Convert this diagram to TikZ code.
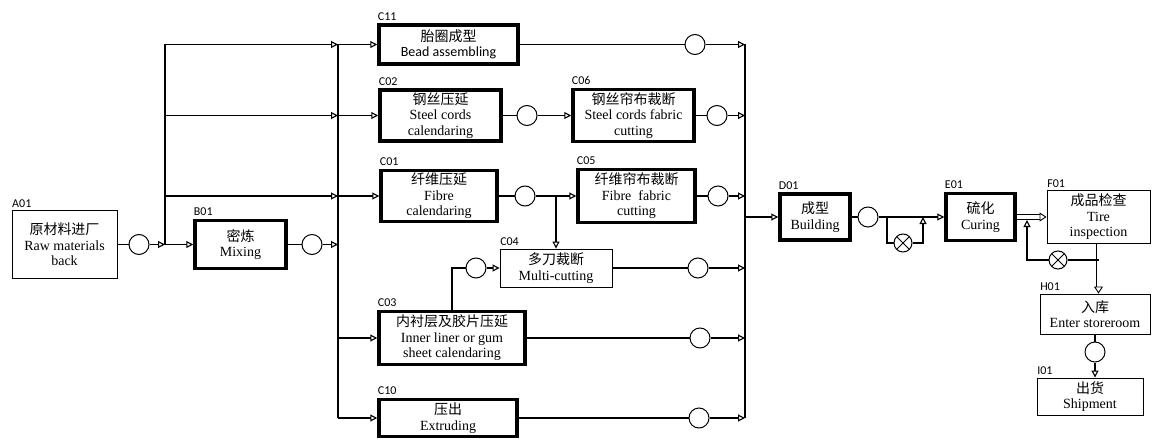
\documentclass[tikz,border=0pt]{standalone}
\usepackage{fontspec}
\setmainfont{Liberation Serif}
\newfontfamily\cjk{Noto Sans CJK SC}
\newfontfamily\cali{Carlito}
\usetikzlibrary{arrows.meta, positioning}

\begin{document}
\begin{tikzpicture}[
    x=1pt, y=-1pt,
    font=\fontsize{14}{15.5}\selectfont,
    block/.style={rectangle, draw, line width=3.5pt, align=center, inner sep=0pt},
    thinblock/.style={block, line width=0.9pt},
    tag/.style={font=\cali\fontsize{12}{12}\selectfont, inner sep=0.5pt, yshift=2pt},
    tagged/.style={label={[tag, anchor=south west]north west:#1}},
    link/.style={draw, line width=1.1pt},
    line/.style={draw, line width=1.1pt, -{Triangle[open, length=7pt, width=7pt]}},
    buf/.style={circle, draw, line width=1pt, minimum size=20pt, inner sep=0pt},
    xbuf/.style={buf, minimum size=18pt, path picture={
        \draw[line width=1pt] (path picture bounding box.north west) -- (path picture bounding box.south east)
            (path picture bounding box.north east) -- (path picture bounding box.south west);}},
    dbl/.style={draw, double, double distance=4pt, line width=0.9pt, -{Triangle[open, length=7pt, width=9pt]}}
]
\useasboundingbox (0,0) rectangle (1152,444);

% raw materials and mixing
\node [thinblock, tagged=A01, minimum width=105pt, minimum height=68pt] (A01) at (64.5,244.5) {{\cjk 原材料进厂}\\Raw materials\\back};
\node [buf] (oA) at (139,244.5) {};
\coordinate (bus1) at (165,44.5);
\node [block, tagged=B01, minimum width=91pt, minimum height=48pt] (B01) at (240.5,244.5) {{\cjk 密炼}\\Mixing};
\node [buf] (oB) at (312,244.5) {};
\coordinate (bus2) at (338,44.5);

% component lines
\node [block, tagged=C11, minimum width=139pt, minimum height=39pt] (C11) at (448.5,44.5) {{\cjk 胎圈成型}\\{\cali Bead assembling}};
\node [buf] (oC11) at (695,44.5) {};
\node [block, tagged=C02, minimum width=121pt, minimum height=51pt] (C02) at (440.5,115.5) {{\cjk 钢丝压延}\\Steel cords\\calendaring};
\node [buf] (oC02) at (527,115.5) {};
\node [block, tagged=C06, minimum width=121pt, minimum height=52pt] (C06) at (633.5,115.5) {{\cjk 钢丝帘布裁断}\\Steel cords fabric\\cutting};
\node [buf] (oC06) at (717,115.5) {};
\node [block, tagged=C01, minimum width=116pt, minimum height=51pt] (C01) at (439,196) {{\cjk 纤维压延}\\Fibre\\calendaring};
\node [buf] (oC01) at (525,196) {};
\node [block, tagged=C05, minimum width=117pt, minimum height=53pt] (C05) at (636.5,196) {{\cjk 纤维帘布裁断}\\Fibre\ \ fabric\\cutting};
\node [buf] (oC05) at (718,196) {};
\node [thinblock, tagged=C04, minimum width=112pt, minimum height=38pt] (C04) at (556,268) {{\cjk 多刀裁断}\\Multi-cutting};
\node [buf] (oC4a) at (476,268) {};
\node [buf] (oC04) at (698,268) {};
\node [block, tagged=C03, minimum width=146pt, minimum height=53pt] (C03) at (452,338) {{\cjk 内衬层及胶片压延}\\Inner liner or gum\\sheet calendaring};
\node [buf] (oC03) at (700,338) {};
\node [block, tagged=C10, minimum width=138pt, minimum height=37pt] (C10) at (448,418) {{\cjk 压出}\\Extruding};
\node [buf] (oC10) at (699,418) {};
\coordinate (bus3) at (745,44.5);

% building, curing, inspection
\node [block, tagged=D01, minimum width=70pt, minimum height=46pt] (D01) at (815,217) {{\cjk 成型}\\Building};
\node [buf] (oD) at (868,217) {};
\node [xbuf] (xD) at (903,243) {};
\coordinate (bpL) at (887,217);
\coordinate (bpR) at (923,217);
\node [block, tagged=E01, minimum width=69pt, minimum height=47pt] (E01) at (980.5,217) {{\cjk 硫化}\\Curing};
\node [thinblock, tagged=F01, minimum width=103pt, minimum height=53pt] (F01) at (1098.5,217) {{\cjk 成品检查}\\Tire\\inspection};
\node [xbuf] (xF) at (1058,260) {};
\coordinate (ret) at (1027,220);
\node [thinblock, tagged=H01, minimum width=110pt, minimum height=40pt] (H01) at (1095,314) {{\cjk 入库}\\Enter storeroom};
\node [buf] (oH) at (1095,352) {};
\node [thinblock, tagged=I01, minimum width=106pt, minimum height=37pt] (I01) at (1090,396.5) {{\cjk 出货}\\Shipment};

% connectors
\path [link] (A01) -- (oA);
\path [line] (oA) -- (bus1 |- oA);
\path [line] (bus1 |- oA) -- (B01);
\path [link] (bus1) -- (bus1 |- oA);
\foreach \n in {C11, C02, C01}
    \path [line] (bus1 |- \n) -- (bus2 |- \n);
\path [link] (B01) -- (oB);
\path [line] (oB) -- (bus2 |- oB);
\path [link] (bus2) -- (bus2 |- C10);
\foreach \n in {C11, C02, C01, C03, C10}
    \path [line] (bus2 |- \n) -- (\n);

\path [link] (C11) -- (oC11);
\path [line] (oC11) -- (bus3 |- oC11);
\path [link] (C02) -- (oC02);
\path [line] (oC02) -- (C06);
\path [link] (C06) -- (oC06);
\path [line] (oC06) -- (bus3 |- oC06);
\path [link] (C01) -- (oC01);
\path [line] (oC01) -- (C05);
\path [line] (C04.north |- oC01) -- (C04);
\path [link] (C05) -- (oC05);
\path [line] (oC05) -- (bus3 |- oC05);
\path [link] (C03) |- (oC4a);
\path [line] (oC4a) -- (C04);
\path [link] (C04) -- (oC04);
\path [line] (oC04) -- (bus3 |- oC04);
\path [link] (C03) -- (oC03);
\path [line] (oC03) -- (bus3 |- oC03);
\path [link] (C10) -- (oC10);
\path [line] (oC10) -- (bus3 |- oC10);
\path [link] (bus3) -- (bus3 |- oC10);

\path [line] (bus3 |- D01) -- (D01);
\path [link] (D01) -- (oD);
\path [line] (oD) -- (E01);
\path [link] (bpL) |- (xD);
\path [line] (xD) -| (bpR);
\path [dbl] (E01) -- (F01);
\path [dbl] (F01) -- (F01.south |- H01.north);
\path [link] (F01.south |- xF) -- (xF);
\path [line] (xF) -| (ret);
\path [link] (H01) -- (oH);
\path [line] (oH) -- (oH |- I01.north);
\end{tikzpicture}
\end{document}
